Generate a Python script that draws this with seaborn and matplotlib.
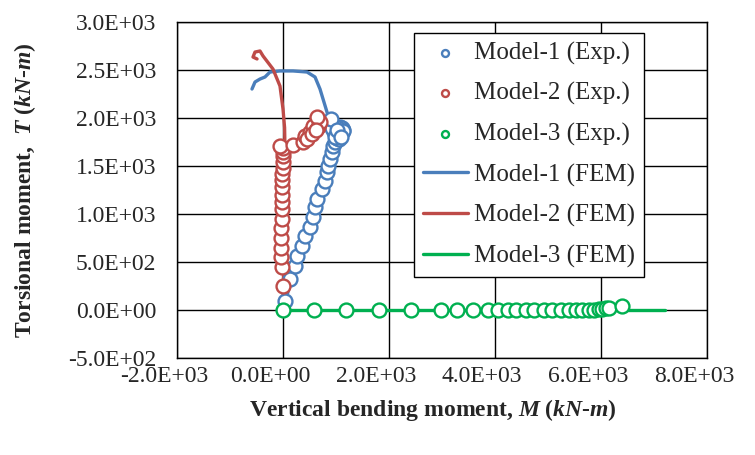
import matplotlib
matplotlib.use("Agg")
import matplotlib.pyplot as plt
import matplotlib.transforms as mtransforms
from matplotlib.ticker import FuncFormatter, MultipleLocator
import seaborn as sns
import pandas as pd

# experimental points (M, T) in kN-m
m1_exp_M = [40, 130, 225, 265, 360, 415, 510, 565, 605, 640, 735, 790, 830, 850, 885, 925, 945,
            980, 1010, 1050, 1080, 1100, 1120, 1140, 1120, 1080, 1040, 1000, 960, 930, 905,
            1000, 1050, 1100, 1130, 1060, 990, 1020, 1090]
m1_exp_T = [95, 320, 460, 565, 665, 770, 865, 970, 1075, 1155, 1260, 1345, 1435, 1500, 1575, 1645, 1710,
            1750, 1790, 1810, 1830, 1850, 1870, 1880, 1900, 1910, 1900, 1880, 1850, 1900, 1990,
            1820, 1860, 1830, 1860, 1780, 1800, 1870, 1800]

m2_exp_M = [5, -25, -35, -35, -30, -30, -25, -20, -20, -15, -15, -10, -10, -5, -5, 0, 0, -5,
            -60, 190, 377, 415, 509, 566, 660, 698, 641, 460, 540, 620]
m2_exp_T = [250, 450, 550, 650, 750, 850, 950, 1050, 1120, 1200, 1280, 1350, 1420, 1480, 1540, 1600, 1650, 1690,
            1710, 1720, 1750, 1813, 1854, 1917, 1906, 1958, 2010, 1780, 1830, 1880]

m3_exp_M = [0, 580, 1180, 1810, 2410, 2980, 3290, 3580, 3860, 4050, 4240, 4390, 4580, 4740, 4930, 5080,
            5240, 5400, 5520, 5650, 5770, 5870, 5960, 6020, 6090, 6150, 6400]
m3_exp_T = [0, 0, 0, 0, 0, 0, 0, 0, 0, 0, 0, 0, 0, 0, 0, 0,
            0, 0, 0, 0, 0, 0, 10, 15, 20, 25, 40]

# FEM curves
m1_fem_M = [0, 150, 300, 500, 650, 800, 900, 1000, 1050, 900, 830, 698, 604, 453, 189, -57, -245, -340,
            -434, -528, -585]
m1_fem_T = [0, 300, 600, 900, 1150, 1400, 1600, 1750, 1850, 1950, 2062, 2302, 2427, 2479, 2490, 2490, 2479, 2427,
            2406, 2375, 2302]

m2_fem_M = [0, 10, 20, 30, 40, 30, 0, -57, -189, -377, -434, -528, -566, -490]
m2_fem_T = [0, 400, 800, 1200, 1600, 1900, 2094, 2333, 2510, 2646, 2698, 2687, 2635, 2615]

m3_fem_M = [0, 1000, 2000, 3000, 4000, 5000, 6000, 7200]
m3_fem_T = [0, 0, 0, 0, 0, 0, 0, 0]

blue = "#4a7ebb"
red = "#be4b48"
green = "#00b050"

sns.set_style("white")
plt.rcParams['font.family'] = ['Liberation Serif', 'DejaVu Serif']
plt.rcParams['mathtext.fontset'] = 'custom'
plt.rcParams['mathtext.it'] = 'Liberation Serif:italic:bold'
plt.rcParams['mathtext.rm'] = 'Liberation Serif:bold'
plt.rcParams['mathtext.bf'] = 'Liberation Serif:bold'

fig = plt.figure(figsize=(7.55, 4.55), dpi=100)
ax = fig.add_axes([177 / 755, 1 - 358 / 455, 530 / 755, 336 / 455])

fem = [(m1_fem_M, m1_fem_T, blue, "Model-1 (FEM)"),
       (m2_fem_M, m2_fem_T, red, "Model-2 (FEM)"),
       (m3_fem_M, m3_fem_T, green, "Model-3 (FEM)")]
exp = [(m1_exp_M, m1_exp_T, blue, "Model-1 (Exp.)"),
       (m2_exp_M, m2_exp_T, red, "Model-2 (Exp.)"),
       (m3_exp_M, m3_exp_T, green, "Model-3 (Exp.)")]

for M, T, c, lab in fem:
    df = pd.DataFrame({"M": M, "T": T})
    sns.lineplot(data=df, x="M", y="T", sort=False, estimator=None, color=c,
                 linewidth=2.4, label=lab, ax=ax, zorder=2)

for M, T, c, lab in exp:
    df = pd.DataFrame({"M": M, "T": T})
    sns.scatterplot(data=df, x="M", y="T", marker="o", s=100, facecolor="white",
                    edgecolor=c, linewidth=1.7, label=lab, ax=ax, zorder=3)

ax.set_xlim(-2000, 8000)
ax.set_ylim(-500, 3000)
ax.xaxis.set_major_locator(MultipleLocator(2000))
ax.yaxis.set_major_locator(MultipleLocator(500))
fmt = FuncFormatter(lambda v, p: f"{v:.1E}")
ax.xaxis.set_major_formatter(fmt)
ax.yaxis.set_major_formatter(fmt)
ax.tick_params(length=0, labelsize=17)
ax.tick_params(axis="y", pad=15)
ax.tick_params(axis="x", pad=6)
# excel puts the x labels a bit to the left
shift = mtransforms.ScaledTranslation(-13 / 100, 0, fig.dpi_scale_trans)
for lbl in ax.get_xticklabels():
    lbl.set_transform(lbl.get_transform() + shift)
ax.grid(True, color="black", linewidth=1.0)
ax.set_axisbelow(True)
for s in ax.spines.values():
    s.set_color("black")
    s.set_linewidth(1.0)

ax.set_xlabel("")
ax.set_ylabel("")
fig.text(433 / 755, 1 - 410 / 455, "Vertical bending moment, $M$ ($kN$-$m$)",
         ha="center", va="center", fontsize=17, fontweight="bold")
fig.text(25 / 755, 1 - 190 / 455, "Torsional moment,  $T$ ($kN$-$m$)", rotation=90,
         ha="center", va="center", fontsize=17, fontweight="bold")

# legend: exp markers first, then FEM lines
handles, labels = ax.get_legend_handles_labels()
order = [labels.index(l) for l in ["Model-1 (Exp.)", "Model-2 (Exp.)", "Model-3 (Exp.)",
                                    "Model-1 (FEM)", "Model-2 (FEM)", "Model-3 (FEM)"]]
leg = ax.legend([handles[i] for i in order], [labels[i] for i in order],
                loc="upper left", bbox_to_anchor=((414 - 177) / 530, (358 - 33) / 336),
                borderaxespad=0, fontsize=18, frameon=True, fancybox=False, framealpha=1,
                edgecolor="black", markerscale=0.5, handlelength=1.8,
                handletextpad=0.25, labelspacing=0.7, borderpad=0.35)
leg.get_frame().set_linewidth(1.0)

fig.savefig("out.png", dpi=100)
